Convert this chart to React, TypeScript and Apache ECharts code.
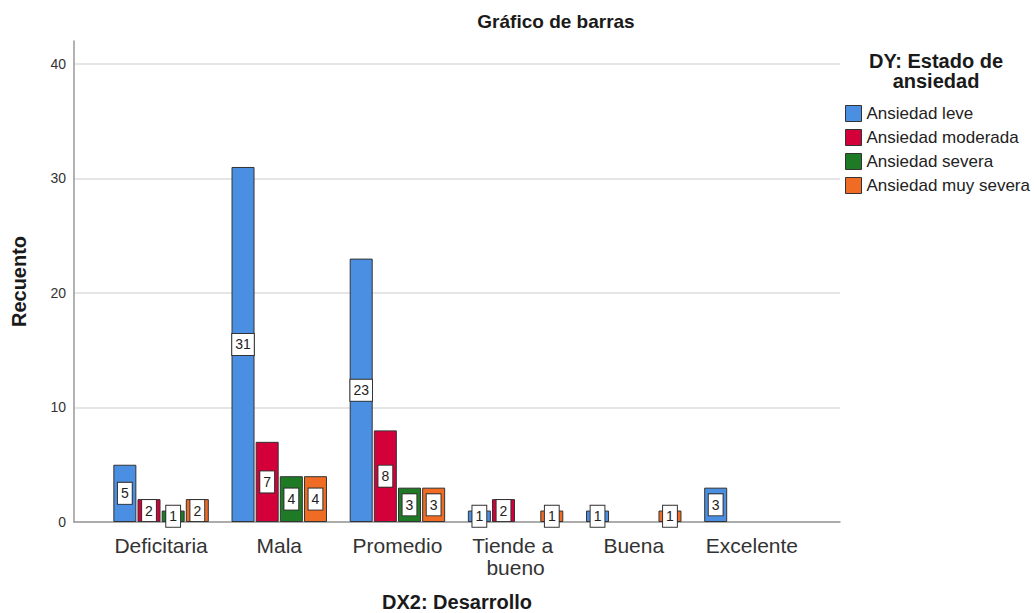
import React, { useEffect, useRef } from "react";
import * as echarts from "echarts";

const categories = ["Deficitaria", "Mala", "Promedio", "Tiende a bueno", "Buena", "Excelente"];
const seriesNames = ["Ansiedad leve", "Ansiedad moderada", "Ansiedad severa", "Ansiedad muy severa"];
const leve = [5, 31, 23, 1, 1, 3];
const moderada = [2, 7, 8, 2, 0, 0];
const severa = [1, 4, 3, 0, 0, 0];
const muySevera = [2, 4, 3, 1, 1, 0];
const yTicks = [0, 10, 20, 30, 40];
const colors = ["#4A8FE2", "#D4003A", "#1E7A24", "#F06C24"];

const FONT = "'Liberation Sans', Arial, sans-serif";

export default function App() {
  const ref = useRef<HTMLDivElement>(null);
  useEffect(() => {
    if (!ref.current) return;
    const chart = echarts.init(ref.current, null, { renderer: "svg" });
    const allData = [leve, moderada, severa, muySevera];
    const option: any = {
      animation: false,
      backgroundColor: "#fff",
      textStyle: { fontFamily: FONT },
      graphic: [
        {
          type: "text",
          x: 556,
          y: 12,
          style: {
            text: "Gráfico de barras",
            fontFamily: FONT,
            fontSize: 19,
            fontWeight: "bold",
            fill: "#1a1a1a",
            align: "center",
            verticalAlign: "top",
          },
        },
        {
          type: "text",
          x: 936,
          y: 51,
          style: {
            text: "DY: Estado de\nansiedad",
            fontFamily: FONT,
            fontSize: 20,
            fontWeight: "bold",
            fill: "#1a1a1a",
            align: "center",
            verticalAlign: "top",
            lineHeight: 20,
          },
        },
      ],
      legend: {
        data: seriesNames,
        orient: "vertical",
        left: 840,
        top: 100,
        itemWidth: 16,
        itemHeight: 16,
        itemGap: 7,
        icon: "rect",
        itemStyle: { borderColor: "#333", borderWidth: 1 },
        textStyle: { fontFamily: FONT, fontSize: 17, color: "#222" },
        selectedMode: false,
      },
      grid: [
        { left: 74, right: 194, top: 41, bottom: 91, outerBoundsMode: "none", containLabel: false },
        { left: 102, right: 223, top: 41, bottom: 91, outerBoundsMode: "none", containLabel: false },
      ],
      xAxis: [
        {
          type: "value",
          gridIndex: 0,
          min: 0,
          max: 1,
          axisLine: { show: true, lineStyle: { color: "#999", width: 1.5 } },
          axisTick: { show: false },
          axisLabel: { show: false },
          splitLine: { show: false },
          name: "DX2: Desarrollo",
          nameLocation: "middle",
          nameGap: 70,
          nameTextStyle: { fontFamily: FONT, fontSize: 20, fontWeight: "bold", color: "#1a1a1a" },
        },
        {
          type: "category",
          gridIndex: 1,
          data: categories,
          axisLine: { show: false },
          axisTick: { show: false },
          axisLabel: {
            interval: 0,
            fontFamily: FONT,
            fontSize: 21,
            color: "#333",
            margin: 12,
            width: 118,
            overflow: "break",
            lineHeight: 22,
          },
        },
      ],
      yAxis: [
        {
          type: "value",
          gridIndex: 0,
          min: 0,
          max: 42,
          interval: 10,
          axisLine: { show: true, lineStyle: { color: "#999", width: 1.5 } },
          axisTick: { show: false },
          axisLabel: {
            fontFamily: FONT,
            fontSize: 14,
            color: "#333",
            margin: 8,
            showMaxLabel: false,
            formatter: (v: number) => (yTicks.includes(v) ? String(v) : ""),
          },
          splitLine: { show: true, showMaxLine: false, lineStyle: { color: "#dcdcdc", width: 1.5 } },
          name: "Recuento",
          nameLocation: "middle",
          nameRotate: 90,
          nameGap: 45,
          nameTextStyle: { fontFamily: FONT, fontSize: 20, fontWeight: "bold", color: "#1a1a1a" },
        },
        {
          type: "value",
          gridIndex: 1,
          min: 0,
          max: 42,
          show: false,
          splitLine: { show: false },
        },
      ],
      series: seriesNames.map((name, i) => ({
        name,
        type: "bar",
        xAxisIndex: 1,
        yAxisIndex: 1,
        barWidth: 23,
        barGap: "5%",
        data: allData[i].map((v) => (v === 0 ? null : v)),
        itemStyle: { color: colors[i], borderColor: "#333", borderWidth: 1 },
        label: {
          show: true,
          position: "inside",
          formatter: "{c}",
          fontFamily: FONT,
          fontSize: 14,
          color: "#222",
          backgroundColor: "#fff",
          borderColor: "#333",
          borderWidth: 1,
          padding: [4, 3, 3, 3],
        },
      })),
    };
    chart.setOption(option);
    return () => chart.dispose();
  }, []);
  return (
    <div
      ref={ref}
      style={{ position: "fixed", left: 0, top: 0, width: 1034, height: 613 }}
    />
  );
}
